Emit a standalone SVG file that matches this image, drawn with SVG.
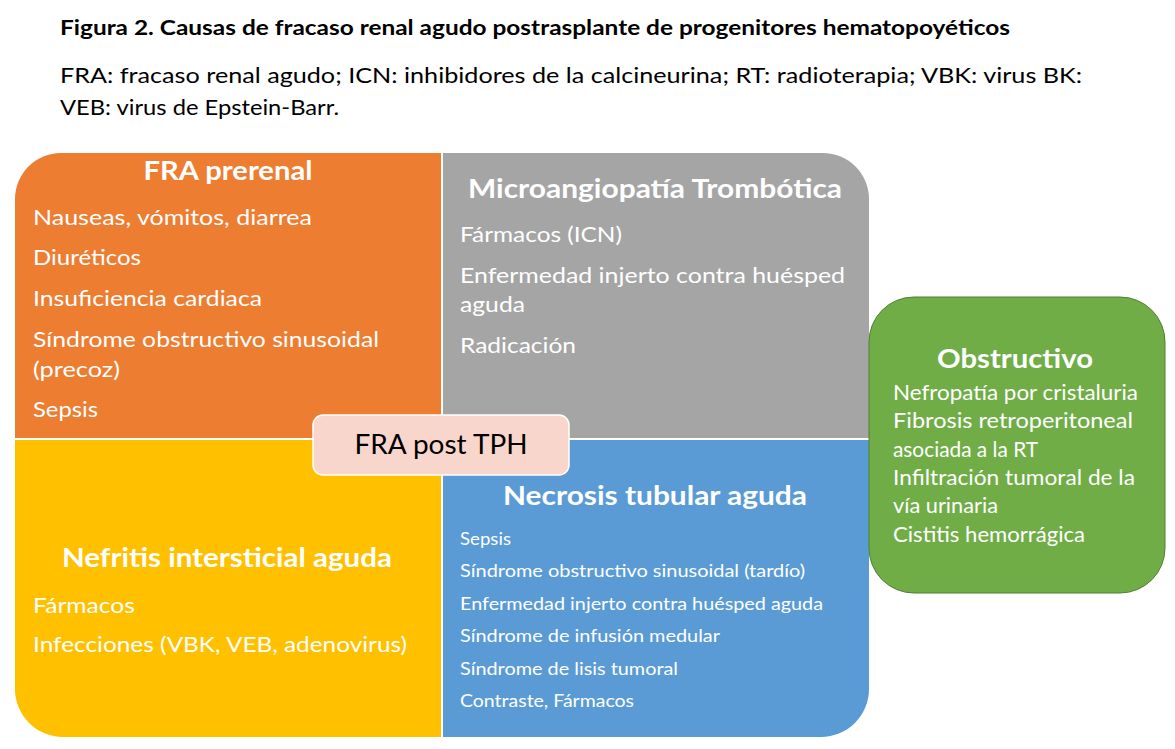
<svg xmlns="http://www.w3.org/2000/svg" width="1175" height="749" viewBox="0 0 1175 749">
<style>
text{font-family:Lato,"Open Sans","Liberation Sans",sans-serif;}
.w{fill:#ffffff;}
.h{font-weight:bold;font-size:26px;text-anchor:middle;}
.i{font-size:22px;}
.g{font-size:20.5px;}
.s{font-size:17.5px;}
.cap{fill:#000;font-size:20.5px;}
</style>
<rect width="1175" height="749" fill="#ffffff"/>
<g id="title">
<text class="cap" x="60" y="35" font-weight="bold" textLength="950" lengthAdjust="spacingAndGlyphs">Figura 2. Causas de fracaso renal agudo postrasplante de progenitores hematopoyéticos</text>
<text class="cap" x="60" y="83" textLength="1022" lengthAdjust="spacingAndGlyphs">FRA: fracaso renal agudo; ICN: inhibidores de la calcineurina; RT: radioterapia; VBK: virus BK:</text>
<text class="cap" x="60" y="115" textLength="279" lengthAdjust="spacingAndGlyphs">VEB: virus de Epstein-Barr.</text>
</g>
<g id="prerenal">
<path d="M15,438 V199 A46,46 0 0 1 61,153 H441 V438 Z" fill="#ED7D31"/>
<text class="w h" x="228" y="180" textLength="169" lengthAdjust="spacingAndGlyphs">FRA prerenal</text>
<text class="w i" x="33" y="225" textLength="279" lengthAdjust="spacingAndGlyphs">Nauseas, vómitos, diarrea</text>
<text class="w i" x="33" y="265" textLength="108" lengthAdjust="spacingAndGlyphs">Diuréticos</text>
<text class="w i" x="33" y="306" textLength="229" lengthAdjust="spacingAndGlyphs">Insuficiencia cardiaca</text>
<text class="w i" x="33" y="347" textLength="346" lengthAdjust="spacingAndGlyphs">Síndrome obstructivo sinusoidal</text>
<text class="w i" x="33" y="377" textLength="87" lengthAdjust="spacingAndGlyphs">(precoz)</text>
<text class="w i" x="33" y="417" textLength="65" lengthAdjust="spacingAndGlyphs">Sepsis</text>
</g>
<g id="mat">
<path d="M443,153 H823 A46,46 0 0 1 869,199 V438 H443 Z" fill="#A5A5A5"/>
<text class="w h" x="655" y="198" textLength="374" lengthAdjust="spacingAndGlyphs">Microangiopatía Trombótica</text>
<text class="w i" x="460" y="242" textLength="162" lengthAdjust="spacingAndGlyphs">Fármacos (ICN)</text>
<text class="w i" x="460" y="283" textLength="385" lengthAdjust="spacingAndGlyphs">Enfermedad injerto contra huésped</text>
<text class="w i" x="460" y="312" textLength="65" lengthAdjust="spacingAndGlyphs">aguda</text>
<text class="w i" x="460" y="353" textLength="116" lengthAdjust="spacingAndGlyphs">Radicación</text>
</g>
<g id="nia">
<path d="M15,440 H441 V737 H63 A48,48 0 0 1 15,689 Z" fill="#FFC000"/>
<text class="w h" x="227" y="567" textLength="330" lengthAdjust="spacingAndGlyphs">Nefritis intersticial aguda</text>
<text class="w i" x="33" y="613" textLength="102" lengthAdjust="spacingAndGlyphs">Fármacos</text>
<text class="w i" x="33" y="652" textLength="374" lengthAdjust="spacingAndGlyphs">Infecciones (VBK, VEB, adenovirus)</text>
</g>
<g id="nta">
<path d="M443,440 H869 V689 A48,48 0 0 1 821,737 H443 Z" fill="#5B9BD5"/>
<text class="w h" x="655" y="505" textLength="304" lengthAdjust="spacingAndGlyphs">Necrosis tubular aguda</text>
<text class="w s" x="460" y="545" textLength="51" lengthAdjust="spacingAndGlyphs">Sepsis</text>
<text class="w s" x="460" y="577" textLength="345" lengthAdjust="spacingAndGlyphs">Síndrome obstructivo sinusoidal (tardío)</text>
<text class="w s" x="460" y="610" textLength="363" lengthAdjust="spacingAndGlyphs">Enfermedad  injerto contra huésped aguda</text>
<text class="w s" x="460" y="642" textLength="260" lengthAdjust="spacingAndGlyphs">Síndrome de infusión medular</text>
<text class="w s" x="460" y="675" textLength="218" lengthAdjust="spacingAndGlyphs">Síndrome de lisis tumoral</text>
<text class="w s" x="460" y="707" textLength="174" lengthAdjust="spacingAndGlyphs">Contraste, Fármacos</text>
</g>
<g id="obstructivo">
<rect x="869" y="297" width="296" height="296" rx="45" fill="#70AD47" stroke="#507E32" stroke-width="1"/>
<text class="w h" x="1015" y="368" textLength="156" lengthAdjust="spacingAndGlyphs">Obstructivo</text>
<text class="w g" x="893" y="400" textLength="245" lengthAdjust="spacingAndGlyphs">Nefropatía por cristaluria</text>
<text class="w g" x="893" y="428" textLength="240" lengthAdjust="spacingAndGlyphs">Fibrosis retroperitoneal</text>
<text class="w g" x="893" y="457" textLength="145" lengthAdjust="spacingAndGlyphs">asociada a la RT</text>
<text class="w g" x="893" y="485" textLength="242" lengthAdjust="spacingAndGlyphs">Infiltración tumoral de la</text>
<text class="w g" x="893" y="513" textLength="105" lengthAdjust="spacingAndGlyphs">vía urinaria</text>
<text class="w g" x="893" y="542" textLength="192" lengthAdjust="spacingAndGlyphs">Cistitis hemorrágica</text>
</g>
<g id="center">
<rect x="313" y="415" width="256" height="60" rx="10" fill="#F8D6CC" stroke="#ffffff" stroke-width="1.5"/>
<text x="441" y="454" font-size="26" text-anchor="middle" fill="#000" textLength="173" lengthAdjust="spacingAndGlyphs">FRA post TPH</text>
</g>
<g id="connectors"></g>
</svg>
